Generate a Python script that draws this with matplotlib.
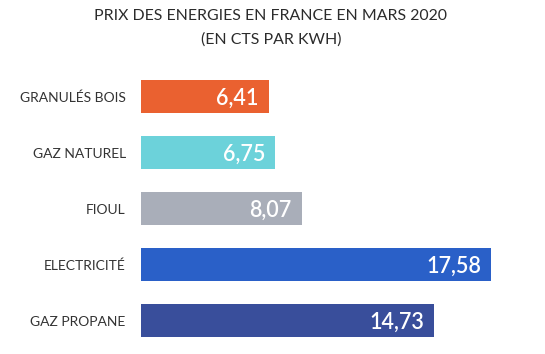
import matplotlib
matplotlib.use('Agg')
from matplotlib import pyplot as plt

categories = ["GRANULÉS BOIS", "GAZ NATUREL", "FIOUL", "ELECTRICITÉ", "GAZ PROPANE"]
values = [6.41, 6.75, 8.07, 17.58, 14.73]
value_labels = ["6,41", "6,75", "8,07", "17,58", "14,73"]
colors = ["#EA6130", "#6CD2DA", "#A9AEB9", "#2A60C8", "#394E9B"]

plt.rcParams['font.family'] = ['Lato', 'DejaVu Sans']

W, H = 545, 354
fig = plt.figure(figsize=(W / 100, H / 100), dpi=100)

# axes: x=0 at 141px, 19.9 px per unit; rows 56 px apart
left, right = 141, 141 + 20 * 19.9
top, bottom = 68.5, 348.5
ax = fig.add_axes([left / W, 1 - bottom / H, (right - left) / W, (bottom - top) / H])

ypos = list(range(len(categories)))
ax.barh(ypos, values, height=0.6, color=colors)
ax.set_xlim(0, 20)
ax.set_ylim(len(categories) - 0.5, -0.5)

for y, v, lab in zip(ypos, values, value_labels):
    ax.text(v - 0.5, y + 0.03, lab, ha='right', va='center', color='white',
            fontsize=15.5, fontweight='semibold')

ax.set_yticks(ypos)
ax.set_yticklabels(categories, fontsize=10, color='#333333')
ax.tick_params(axis='y', length=0, pad=11)
ax.set_xticks([])
for s in ax.spines.values():
    s.set_visible(False)

fig.text(271 / W, 1 - 16 / H, "PRIX DES ENERGIES EN FRANCE EN MARS 2020",
         ha='center', va='center', fontsize=11.4, color='#2b2b2b')
fig.text(271 / W, 1 - 40 / H, "(EN CTS PAR KWH)",
         ha='center', va='center', fontsize=11.4, color='#2b2b2b')

fig.savefig('out.png', dpi=100)
